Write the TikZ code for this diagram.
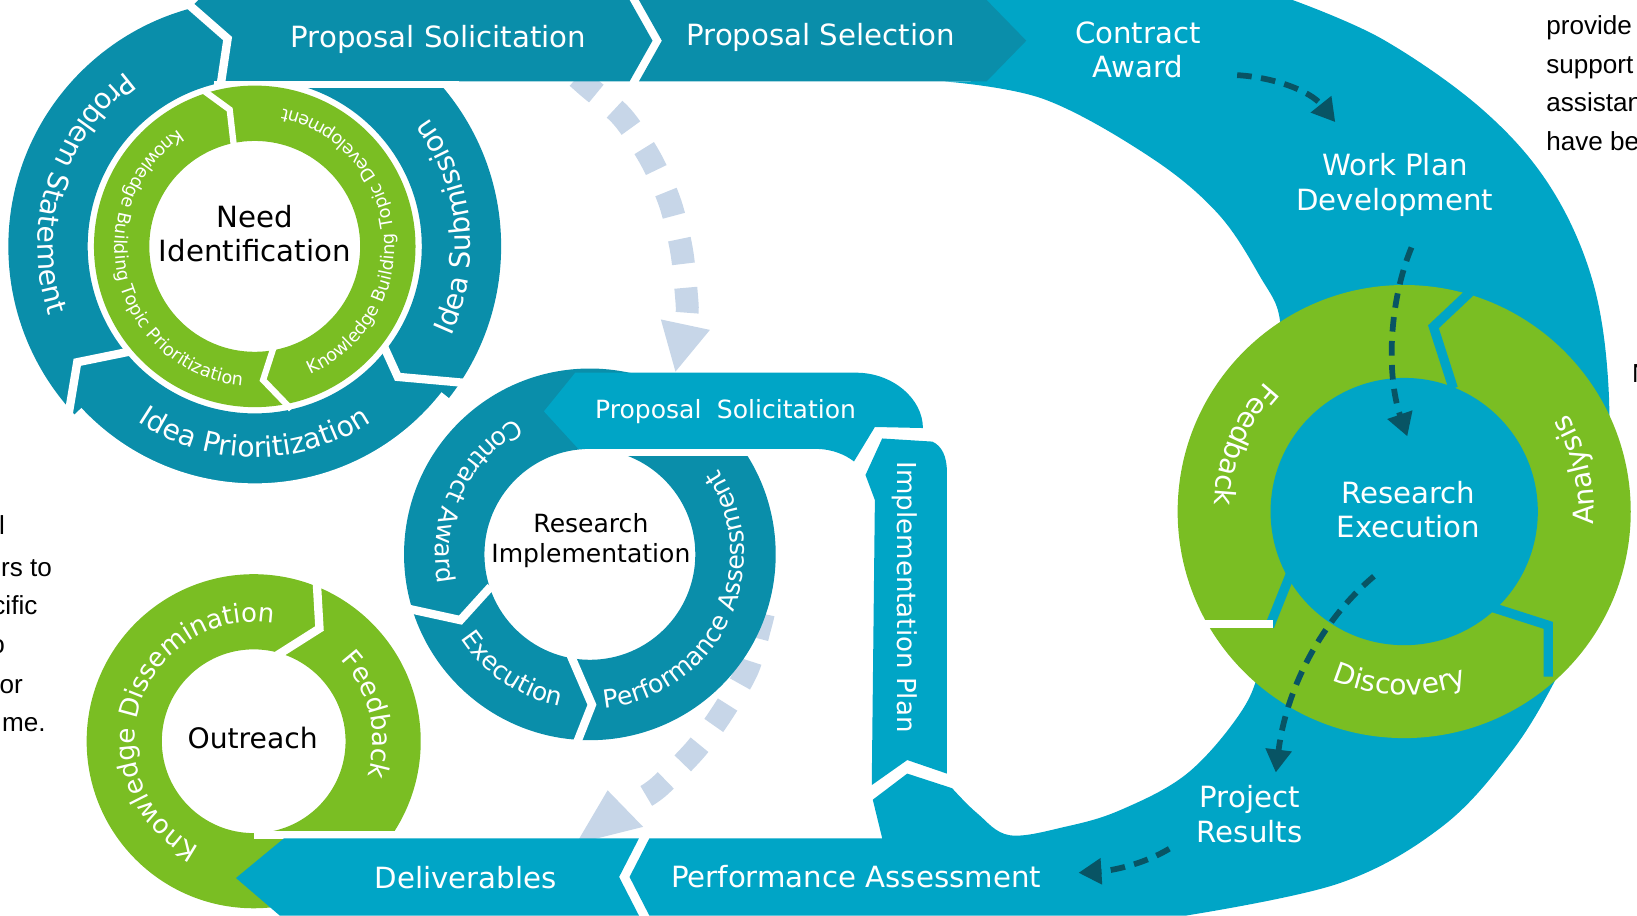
\documentclass[tikz,border=0pt]{standalone}
\usepackage{fontspec}
\setmainfont{DejaVu Sans}
\newfontfamily\arialf{Liberation Sans}
\usetikzlibrary{calc,decorations.text,arrows.meta}
\definecolor{darkc}{RGB}{10,142,170}
\definecolor{lightc}{RGB}{0,165,198}
\definecolor{greenc}{RGB}{122,190,35}
\definecolor{dotc}{RGB}{199,214,232}
\definecolor{arrc}{RGB}{8,84,100}
\newcommand\arctext[6]{\path[decorate,decoration={text along path,text align=center,text color=white,text={|\fontsize{#5}{#5}\selectfont|#6}}] ($(#1)+(#3:#2)$) arc[start angle=#3,end angle=#4,radius=#2];}
\tikzset{
  lab/.style={text=white,align=center,inner sep=0pt},
  blab/.style={text=black,align=center,inner sep=0pt},
  wgap/.style={draw=white,line width=8pt},
  cgap/.style={draw=lightc,line width=9pt},
  darkarrow/.style={draw=arrc,line width=5.5pt,dash pattern=on 14pt off 9pt,-{Triangle[length=22pt,width=24pt]}},
  dotarrow/.style={draw=dotc,line width=22pt,dash pattern=on 24pt off 23pt},
  frag/.style={text=black,inner sep=0pt,font=\arialf\fontsize{25}{30}\selectfont},
  big/.style={font=\fontsize{28}{33}\selectfont},
}
\begin{document}
\begin{tikzpicture}[x=1pt,y=1pt]
\useasboundingbox (0,0) rectangle (1568,877);
\clip (0,0) rectangle (1568,877);
\coordinate (A) at (244,641);
\coordinate (M) at (565,346);
\coordinate (O) at (243,167);
\coordinate (R) at (1345,387);

% light dotted arrows
\draw[dotarrow] plot[smooth] coordinates {(553,803) (562,795) (596,765) (623,725) (642,682) (653,636) (658,588) (658,576)};
\fill[dotc] (633,571) -- (680,561) -- (647,521) -- cycle;
\draw[dotarrow] plot[smooth] coordinates {(731,289) (728,277) (716,236) (693,196) (667,160) (633,125) (618,114)};
\fill[dotc] (582,120) -- (616,85) -- (552,69) -- cycle;

% big light band
\fill[lightc] (930,877) -- (1238,877) -- plot[smooth,tension=0.6] coordinates {(1238,877) (1325,839) (1420,772) (1485,698) (1526,606) (1541,500) (1536,397) (1518,290) (1490,226) (1447,156) (1381,85) (1283,31) (1136,0)} -- (622,0) -- (603,37) -- (622,74) -- (845,74) -- (836,111) -- (869,136) -- (912,122) -- plot[smooth,tension=0.6] coordinates {(912,122) (936,98) (967,77) (1020,85) (1073,101) (1137,136) (1188,194) (1207,240) (1214,300) (1215,397) (1222,500) (1226,570) (1207,612) (1166,673) (1101,727) (1000,782) (905,799)} -- (930,799) -- cycle;

% top band
\fill[darkc] (182,869) -- (190,877) -- (603,877) -- (625,838) -- (603,799) -- (216,799) -- (223,843) -- cycle;
\fill[darkc] (612,877) -- (945,877) -- (983,838) -- (945,799) -- (612,799) -- (634,838) -- cycle;

% cluster A : need identification
\fill[darkc,even odd rule] (A) circle[radius=236] (A) circle[radius=160];
\draw[white,line width=10pt] ($(A)+(223:232)$) arc[start angle=223,end angle=322,radius=232];
\draw[wgap] (178,875) -- (218,840) -- (211,793);
\fill[white] (205,793) rectangle (440,799);
\draw[wgap] (66,482) -- (74,530) -- (128,541);
\draw[wgap] (366,549) -- (381,516) -- (448,510);
\fill[greenc,even odd rule] (A) circle[radius=154] (A) circle[radius=101];
\draw[white,line width=6pt] (194,791) -- (220,772) -- (224,737);
\draw[white,line width=6pt] (262,544) -- (252,513) -- (279,485);
\arctext{A}{208}{100}{225}{27}{Problem Statement}
\arctext{A}{207}{-40}{52}{27}{Idea Submission}
\arctext{A}{202}{225}{315}{27}{Idea Prioritization}
\arctext{A}{134}{-80}{92}{17}{Knowledge Building Topic Development}
\arctext{A}{134}{115}{273}{17}{Knowledge Building Topic Prioritization}

% middle cluster : research implementation
\fill[darkc,even odd rule] (M) circle[radius=178] (M) circle[radius=101];
\draw[wgap] (386,295) -- (441,283) -- (470,315);
\draw[wgap] (545,253) -- (567,202) -- (552,164);
\fill[white] (560,440) rectangle (730,447);
\fill[lightc] (521,483) -- (551,520) -- (820,520) .. controls (855,520) and (884,495) .. (884,467) -- (838,468) -- (818,435) .. controls (810,441) and (798,447) .. (781,447) -- (554,447) -- cycle;
\fill[lightc] (829,422) -- (845,457) -- (893,454) .. controls (902,450) and (907,440) .. (907,425) -- (907,136) -- (869,149) -- (835,125) -- (838,398) -- cycle;
\arctext{M}{148}{100}{210}{24}{Contract Award}
\arctext{M}{148}{206}{266}{24}{Execution}
\arctext{M}{148}{270}{399}{24}{Performance Assessment}

% outreach cluster
\fill[greenc,even odd rule] (O) circle[radius=160] (O) circle[radius=88];
\draw[wgap] (303,327) -- (306,275) -- (265,249);
\fill[white] (243,73) rectangle (412,81);
\fill[lightc] (272,74) -- (226,36) -- (268,0) -- (612,0) -- (593,37) -- (612,74) -- cycle;
\arctext{O}{114}{248}{75}{25}{Knowledge Dissemination}
\arctext{O}{114}{50}{-24}{25}{Feedback}

% right cluster : research execution
\fill[greenc] (R) circle[radius=217];
\fill[lightc] (R) circle[radius=128];
\draw[cgap] (1408,597) -- (1373,564) -- (1392,505);
\draw[cgap] (1430,295) -- (1483,278) -- (1483,229);
\draw[cgap] (1238,332) -- (1216,277);
\draw[white,line width=8pt] (1140,279) -- (1219,279);
\arctext{R}{182}{130}{185}{27}{Feedback}
\arctext{R}{182}{-15}{42}{27}{Analysis}
\arctext{R}{176}{240}{297}{27}{Discovery}

% labels
\node[lab,big] (propsol) at (420,839) {Proposal Solicitation};
\node[lab,big] (propsel) at (786,841) {Proposal Selection};
\node[lab,big] (contract) at (1090,829) {Contract\\Award};
\node[lab,big] (workplan) at (1336,700) {Work Plan\\Development};
\node[lab,big] (resexec) at (1349,389) {Research\\Execution};
\node[lab,big] (projres) at (1197,97) {Project\\Results};
\node[lab,big] (perfass) at (820,37) {Performance Assessment};
\node[lab,big] (deliv) at (446,36) {Deliverables};
\node[blab,big] (needid) at (244,653) {Need\\Identification};
\node[blab,font=\fontsize{24}{29}\selectfont] (resimpl) at (566,359) {Research\\Implementation};
\node[lab,font=\fontsize{24}{29}\selectfont] (midprop) at (695,483) {Proposal\hspace{.3em} Solicitation};
\node[lab,font=\fontsize{25}{30}\selectfont,rotate=-90] (implplan) at (867,305) {Implementation Plan};
\node[blab,font=\fontsize{27}{32}\selectfont] (outreach) at (242,170) {Outreach};

% dark dashed arrows
\coordinate (a1s) at (1185,805); \coordinate (a1e) at (1279,760);
\draw[darkarrow] (a1s) .. controls (1220,803) and (1255,790) .. (a1e);
\coordinate (a2s) at (1352,640); \coordinate (a2e) at (1348,459);
\draw[darkarrow] (a2s) .. controls (1330,587) and (1328,517) .. (a2e);
\coordinate (a3s) at (1316,325); \coordinate (a3e) at (1222,137);
\draw[darkarrow] (a3s) .. controls (1265,282) and (1232,217) .. (a3e);
\coordinate (a4s) at (1120,64); \coordinate (a4e) at (1033,41);
\draw[darkarrow] (a4s) .. controls (1095,49) and (1065,43) .. (a4e);

% cut page text
\node[frag,anchor=base east] (f1) at (5,365) {l};
\node[frag,anchor=base east] (f2) at (50,325) {rs to};
\node[frag,anchor=base east] (f3) at (36,288) {cific};
\node[frag,anchor=base east] (f4) at (5,251) {o};
\node[frag,anchor=base east] (f5) at (22,213) {or};
\node[frag,anchor=base east] (f6) at (44,176) {me.};
\node[frag,anchor=base west] (g1) at (1481,844) {provide};
\node[frag,anchor=base west] (g2) at (1481,807) {support};
\node[frag,anchor=base west] (g3) at (1481,770) {assistance};
\node[frag,anchor=base west] (g4) at (1481,733) {have been};
\node[frag,anchor=base west] (g5) at (1563,511) {N};
\end{tikzpicture}
\end{document}
